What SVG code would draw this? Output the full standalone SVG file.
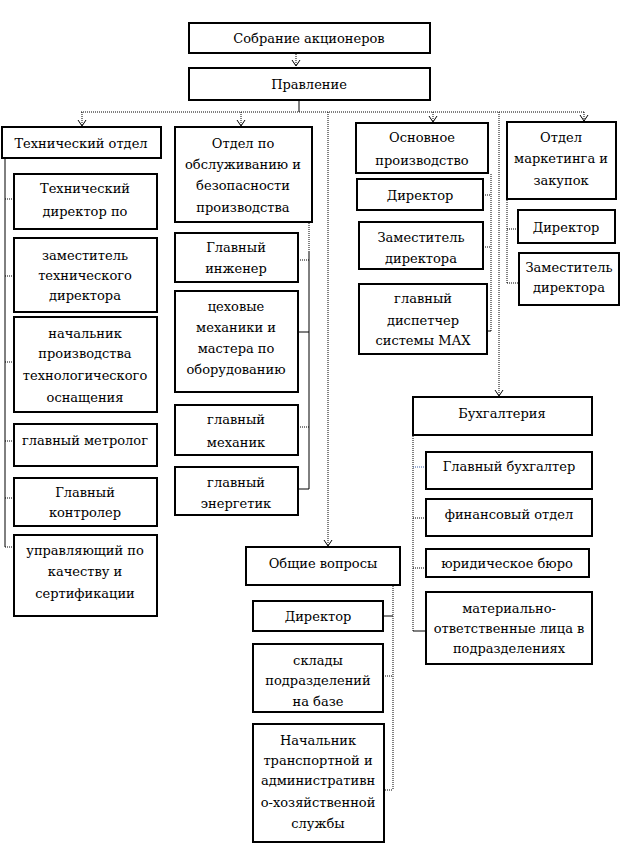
<svg xmlns="http://www.w3.org/2000/svg" width="622" height="846" viewBox="0 0 622 846">
<style>
.box{fill:#fff;stroke:#000;stroke-width:2}
text{font-family:"DejaVu Serif","Liberation Serif",serif;font-size:13px;fill:#000;text-anchor:middle;letter-spacing:0px}
.c{fill:none;stroke:#000;stroke-width:1;stroke-dasharray:1 1}
.s{fill:none;stroke:#000;stroke-width:1}
.b{fill:none;stroke:#3a5fa8;stroke-width:1;stroke-dasharray:1 1}
.a{marker-end:url(#arr)}
</style>
<defs>
<marker id="arr" markerUnits="userSpaceOnUse" markerWidth="10" markerHeight="10" refX="0" refY="0" viewBox="-8 -5 10 10" orient="auto" overflow="visible">
<path d="M-6,-4 L0,0 L-6,4" fill="none" stroke="#000" stroke-width="1"/>
</marker>
</defs>
<rect width="622" height="846" fill="#fff"/>

<g id="connectors">
<line class="c a" x1="296" y1="54" x2="296" y2="66"/>
<line class="s" x1="299" y1="101" x2="299" y2="112"/>
<line class="c" x1="81" y1="112" x2="585" y2="112"/>
<line class="c a" x1="82" y1="112" x2="82" y2="126"/>
<line class="c a" x1="241" y1="112" x2="241" y2="126"/>
<line class="c a" x1="433" y1="112" x2="433" y2="122"/>
<line class="c a" x1="584" y1="112" x2="584" y2="121"/>
<line class="c a" x1="328" y1="112" x2="328" y2="546"/>
<line class="c a" x1="499" y1="112" x2="499" y2="396"/>
<line class="s" x1="5" y1="159" x2="5" y2="547"/>
<line class="c" x1="5" y1="199" x2="13" y2="199"/>
<line class="c" x1="5" y1="276" x2="13" y2="276"/>
<line class="c" x1="5" y1="362" x2="13" y2="362"/>
<line class="c" x1="5" y1="441" x2="13" y2="441"/>
<line class="c" x1="5" y1="498" x2="13" y2="498"/>
<line class="c" x1="5" y1="547" x2="13" y2="547"/>
<line class="c" x1="309" y1="223" x2="309" y2="252"/>
<line class="s" x1="309" y1="252" x2="309" y2="489"/>
<line class="c" x1="298" y1="260" x2="309" y2="260"/>
<line class="s" x1="298" y1="332" x2="309" y2="332"/>
<line class="c" x1="298" y1="427" x2="309" y2="427"/>
<line class="s" x1="298" y1="489" x2="309" y2="489"/>
<line class="c" x1="491" y1="174" x2="491" y2="331"/>
<line class="c" x1="483" y1="195" x2="491" y2="195"/>
<line class="c" x1="483" y1="247" x2="491" y2="247"/>
<line class="s" x1="487" y1="331" x2="491" y2="331"/>
<line class="c" x1="507" y1="200" x2="507" y2="283"/>
<line class="c" x1="507" y1="229" x2="517" y2="229"/>
<line class="c" x1="507" y1="283" x2="518" y2="283"/>
<line class="c" x1="413" y1="436" x2="413" y2="631"/>
<line class="b" x1="413" y1="467" x2="425" y2="467"/>
<line class="c" x1="413" y1="518" x2="425" y2="518"/>
<line class="c" x1="413" y1="568" x2="425" y2="568"/>
<line class="s" x1="413" y1="631" x2="425" y2="631"/>
<line class="c" x1="393" y1="586" x2="393" y2="790"/>
<line class="s" x1="383" y1="616" x2="393" y2="616"/>
<line class="c" x1="383" y1="676" x2="393" y2="676"/>
<line class="c" x1="385" y1="790" x2="393" y2="790"/>
</g>

<g id="sobranie"><rect class="box" x="189" y="23" width="241" height="30"/><text x="309" y="43">Собрание акционеров</text></g>
<g id="pravlenie"><rect class="box" x="189" y="68" width="241" height="32"/><text x="309" y="89">Правление</text></g>

<g id="tech"><rect class="box" x="2" y="127" width="159" height="31"/><text x="81" y="148">Технический отдел</text></g>
<g id="tech1"><rect class="box" x="14" y="174" width="143" height="55"/><text x="85" y="193">Технический</text><text x="85" y="216">директор по</text></g>
<g id="tech2"><rect class="box" x="14" y="238" width="143" height="74"/><text x="85" y="260">заместитель</text><text x="85" y="280">технического</text><text x="85" y="300">директора</text></g>
<g id="tech3"><rect class="box" x="14" y="317" width="143" height="95"/><text x="85" y="338">начальник</text><text x="85" y="358">производства</text><text x="85" y="380">технологического</text><text x="85" y="402">оснащения</text></g>
<g id="tech4"><rect class="box" x="14" y="424" width="143" height="42"/><text x="85" y="445">главный метролог</text></g>
<g id="tech5"><rect class="box" x="14" y="478" width="143" height="48"/><text x="85" y="497">Главный</text><text x="85" y="517">контролер</text></g>
<g id="tech6"><rect class="box" x="14" y="535" width="143" height="81"/><text x="85" y="555">управляющий по</text><text x="85" y="576">качеству и</text><text x="85" y="598">сертификации</text></g>

<g id="obsl"><rect class="box" x="175" y="127" width="137" height="95"/><text x="243" y="148">Отдел по</text><text x="243" y="169">обслуживанию и</text><text x="243" y="190">безопасности</text><text x="243" y="212">производства</text></g>
<g id="obsl1"><rect class="box" x="175" y="233" width="123" height="49"/><text x="236" y="252">Главный</text><text x="236" y="273">инженер</text></g>
<g id="obsl2"><rect class="box" x="175" y="291" width="123" height="101"/><text x="236" y="311">цеховые</text><text x="236" y="332">механики и</text><text x="236" y="353">мастера по</text><text x="236" y="374">оборудованию</text></g>
<g id="obsl3"><rect class="box" x="175" y="405" width="123" height="50"/><text x="236" y="424">главный</text><text x="236" y="447">механик</text></g>
<g id="obsl4"><rect class="box" x="175" y="467" width="123" height="48"/><text x="236" y="487">главный</text><text x="236" y="508">энергетик</text></g>

<g id="osn"><rect class="box" x="356" y="123" width="132" height="50"/><text x="422" y="142">Основное</text><text x="422" y="165">производство</text></g>
<g id="osn1"><rect class="box" x="357" y="179" width="126" height="31"/><text x="420" y="200">Директор</text></g>
<g id="osn2"><rect class="box" x="359" y="222" width="124" height="47"/><text x="421" y="242">Заместитель</text><text x="421" y="263">директора</text></g>
<g id="osn3"><rect class="box" x="359" y="284" width="128" height="70"/><text x="423" y="303">главный</text><text x="423" y="325">диспетчер</text><text x="423" y="345">системы МАХ</text></g>

<g id="mark"><rect class="box" x="507" y="122" width="109" height="77"/><text x="561" y="142">Отдел</text><text x="561" y="163">маркетинга и</text><text x="561" y="185">закупок</text></g>
<g id="mark1"><rect class="box" x="518" y="210" width="97" height="33"/><text x="566" y="232">Директор</text></g>
<g id="mark2"><rect class="box" x="519" y="253" width="100" height="52"/><text x="569" y="272">Заместитель</text><text x="569" y="292">директора</text></g>

<g id="buh"><rect class="box" x="413" y="397" width="179" height="38"/><text x="502" y="418">Бухгалтерия</text></g>
<g id="buh1"><rect class="box" x="426" y="452" width="166" height="37"/><text x="509" y="471">Главный бухгалтер</text></g>
<g id="buh2"><rect class="box" x="426" y="499" width="166" height="37"/><text x="509" y="519">финансовый отдел</text></g>
<g id="buh3"><rect class="box" x="426" y="549" width="163" height="28"/><text x="507" y="568">юридическое бюро</text></g>
<g id="buh4"><rect class="box" x="426" y="592" width="166" height="72"/><text x="509" y="613">материально-</text><text x="509" y="633">ответственные лица в</text><text x="509" y="653">подразделениях</text></g>

<g id="obsh"><rect class="box" x="246" y="547" width="154" height="38"/><text x="323" y="568">Общие вопросы</text></g>
<g id="obsh1"><rect class="box" x="253" y="601" width="130" height="30"/><text x="318" y="621">Директор</text></g>
<g id="obsh2"><rect class="box" x="253" y="644" width="130" height="68"/><text x="318" y="665">склады</text><text x="318" y="685">подразделений</text><text x="318" y="706">на базе</text></g>
<g id="obsh3"><rect class="box" x="253" y="724" width="131" height="118"/><text x="318" y="745">Начальник</text><text x="318" y="765">транспортной и</text><text x="318" y="785">административн</text><text x="318" y="807">о-хозяйственной</text><text x="318" y="828">службы</text></g>
</svg>
